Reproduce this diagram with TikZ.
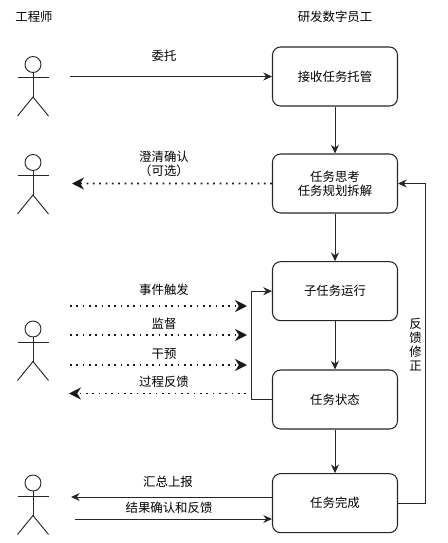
\documentclass[tikz,border=0pt]{standalone}
\usepackage{fontspec}
\setmainfont{Noto Sans CJK SC}
\usepackage{tikz}
\usetikzlibrary{arrows.meta,positioning,calc}

\tikzset{
  actor/.pic={
    \draw[actorline] (0,8.5) circle[radius=8];
    \draw[actorline] (0,16.5) -- (0,41);
    \draw[actorline] (-15.5,21.5) -- (15.5,21.5);
    \draw[actorline] (-15.5,60) -- (0,41) -- (15.5,60);
  }
}

\begin{document}
\begin{tikzpicture}[x=0.75pt,y=-0.75pt,node distance=36pt,>={Stealth[length=6.5pt,width=6pt]},font=\fontsize{9.3pt}{10.5pt}\selectfont]
\tikzstyle{actorline}=[draw=black!85,line width=0.7pt]
\tikzstyle{block}=[rectangle,rounded corners=6pt,draw=black!85,line width=0.8pt,minimum width=93.75pt,minimum height=44.25pt,inner sep=0pt,align=center]
\tikzstyle{lbl}=[inner sep=0pt,align=center,text=black]
\tikzstyle{conn}=[->,draw=black!85,line width=0.75pt]
\tikzstyle{dotconn}=[-{Stealth[length=9pt,width=9pt]},draw=black!90,line width=1.3pt,dash pattern=on 1.3pt off 3.45pt]
\useasboundingbox (0,0) rectangle (447,543);

\node[lbl] (eng) at (34,17) {工程师};
\node[lbl] (dev) at (335,17) {研发数字员工};

\node[block] (a) at (335,76.5) {接收任务托管};
\node[block,below=35.2pt of a] (b) {任务思考\\任务规划拆解};
\node[block,below=35.7pt of b] (c) {子任务运行};
\node[block,below=36.2pt of c] (d) {任务状态};
\node[block,below=32.7pt of d] (e) {任务完成};

\pic at (33,56) {actor};
\pic at (33,154) {actor};
\pic at (33,320.5) {actor};
\pic at (33,474.5) {actor};

\coordinate (delegate) at (70,76.5);
\coordinate (clarify) at (72,183.5);
\coordinate (trigger) at (70,306);
\coordinate (triggerEnd) at (247,306);
\coordinate (watch) at (70,335);
\coordinate (watchEnd) at (247,335);
\coordinate (steer) at (70,365);
\coordinate (steerEnd) at (247,365);
\coordinate (report) at (246,393.5);
\coordinate (reportEnd) at (69,393.5);
\coordinate (summary) at (71,497);
\coordinate (confirm) at (75,519);
\coordinate (loop) at (251.5,345);
\coordinate (back) at (425,345);

\draw[conn] (delegate) -- (a.west);
\draw[conn] (a) -- (b);
\draw[conn] (b) -- (c);
\draw[conn] (c) -- (d);
\draw[conn] (d) -- (e);
\draw[dotconn] (b.west) -- (clarify);
\draw[dotconn] (trigger) -- (triggerEnd);
\draw[dotconn] (watch) -- (watchEnd);
\draw[dotconn] (steer) -- (steerEnd);
\draw[dotconn] (report) -- (reportEnd);
\draw[conn] (d.west) -- (loop |- d.west) -- (loop |- c.west) -- (c.west);
\draw[conn] (e.west |- summary) -- (summary);
\draw[conn] (confirm) -- (e.west |- confirm);
\draw[conn] (e.east) -- (back |- e.east) -- (back |- b.east) -- (b.east);

\node[lbl] (l1) at (164,56) {委托};
\node[lbl] (l2) at (164,164) {澄清确认\\（可选）};
\node[lbl] (l3) at (164,290) {事件触发};
\node[lbl] (l4) at (164,324) {监督};
\node[lbl] (l5) at (164,354) {干预};
\node[lbl] (l6) at (164,382) {过程反馈};
\node[lbl] (l7) at (168,482) {汇总上报};
\node[lbl] (l8) at (169,508) {结果确认和反馈};
\node[lbl] (l9) at (415.5,345) {反\\馈\\修\\正};
\end{tikzpicture}
\end{document}
